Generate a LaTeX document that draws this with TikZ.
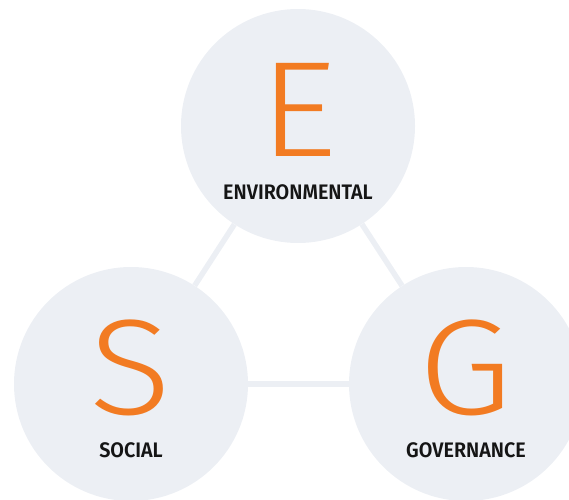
\documentclass[tikz,border=0pt]{standalone}
\usepackage{fontspec}
\setmainfont{Fira Sans}
\newfontfamily\bigfont[FakeStretch=1.12]{Fira Sans Light}
\newfontfamily\capfont[FakeStretch=0.94]{Fira Sans SemiBold}
\definecolor{discgray}{HTML}{ECEFF4}
\definecolor{esgorange}{HTML}{F27B22}
\definecolor{captionblack}{HTML}{151515}
\tikzset{
  disc/.style={circle, fill=discgray, minimum size=234pt, inner sep=0pt},
  link/.style={draw=discgray, line width=5.5pt},
  bigletter/.style={anchor=base, inner sep=0pt, text height=95pt, text depth=0pt, text=esgorange, font=\bigfont\fontsize{136}{136}\selectfont},
  caption/.style={anchor=base, inner sep=0pt, text height=15pt, text depth=0pt, text=captionblack, font=\capfont\fontsize{21}{21}\selectfont}
}
\begin{document}
\begin{tikzpicture}[x=1pt,y=1pt]
                \useasboundingbox (0,0) rectangle (569,499);
                \clip (0,0) rectangle (569,499);
                 \node[disc] (env) at (298,373) {};
                 \node[disc] (soc) at (131,115) {};
                 \node[disc] (gov) at (466,115) {};
                 \draw[link] (env) -- (soc);
                 \draw[link] (env) -- (gov);
                 \draw[link] (soc) -- (gov);
                 \node[bigletter] (envletter) at ([yshift=-30.5]env.center) {E};
                 \node[bigletter] (socletter) at ([yshift=-30.5]soc.center) {S};
                 \node[bigletter] (govletter) at ([yshift=-30.5]gov.center) {G};
                 \node[caption] (envcaption) at ([yshift=-73.5]env.center) {ENVIRONMENTAL};
                 \node[caption] (soccaption) at ([yshift=-73.5]soc.center) {SOCIAL};
                 \node[caption] (govcaption) at ([yshift=-73.5]gov.center) {GOVERNANCE};
            \end{tikzpicture}
\end{document}
